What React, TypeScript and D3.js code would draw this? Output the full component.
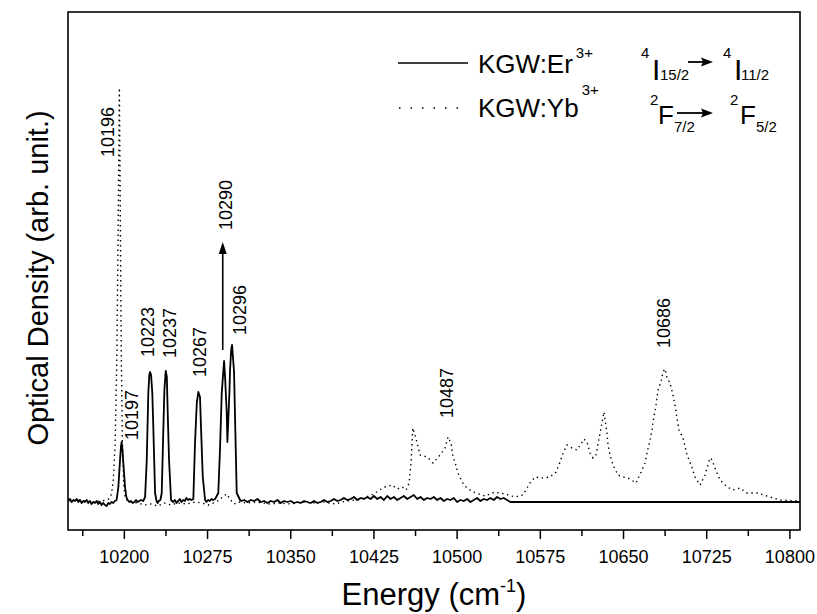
import React from 'react';
import * as d3 from 'd3';

// ---------- data ----------
// KGW:Er3+ (solid) : [energy cm-1, optical density (arb.)]
const erSeries: [number, number][] = [
  [10149.5, 30], [10151, 31], [10152.5, 28], [10154, 30], [10155.5, 29], [10157, 31], [10158.5, 28], [10160, 30],
  [10161.5, 27], [10163, 29], [10164.5, 28], [10166, 30], [10167.5, 27], [10169, 29], [10170.5, 26], [10172, 28],
  [10173.5, 27], [10175, 29], [10176.5, 26], [10178, 28], [10179.5, 25], [10181, 27], [10182.5, 25], [10184, 24],
  [10185.5, 27], [10187, 26], [10188.5, 28], [10190, 27], [10191.5, 29], [10193, 30],
  [10194.6, 43], [10196.1, 70], [10197, 84], [10197.6, 88], [10198.3, 80], [10199.1, 67], [10200.6, 43], [10201.8, 33], [10203, 30],
  [10204.5, 28], [10206, 29], [10207.5, 27], [10209, 28], [10210.5, 30], [10212, 28], [10213.5, 29], [10215, 30],
  [10217, 29], [10218.7, 33], [10220.2, 70], [10221.6, 137], [10222.5, 155], [10223.2, 158], [10224.1, 155], [10225.2, 137],
  [10226.1, 103], [10227.7, 37], [10229, 29], [10230, 27], [10231, 29],
  [10232.5, 30], [10233.7, 37], [10235.2, 103], [10236.1, 140], [10237.3, 159], [10238.3, 153], [10239.1, 117], [10240.3, 70], [10242.1, 30],
  [10244, 28], [10245.5, 30], [10247, 27], [10248.5, 29], [10250, 31], [10251.5, 28], [10253, 30], [10254.5, 29],
  [10256, 32], [10257.5, 30], [10259, 31], [10260.5, 30],
  [10262.2, 31], [10263.7, 87], [10265.3, 127], [10266.7, 138], [10268.2, 133], [10269.1, 103], [10270.7, 53], [10272.8, 30],
  [10274, 28], [10275.5, 30], [10277, 29], [10278.5, 31], [10280, 30], [10281.8, 31],
  [10284.7, 37], [10286.3, 83], [10287.8, 137], [10289.9, 169], [10290.8, 153], [10292.3, 117], [10292.9, 88],
  [10294.7, 137], [10295.3, 160], [10296.3, 180], [10297.1, 185], [10298.9, 158], [10299.8, 112], [10301.3, 37], [10304.3, 30],
  [10305.5, 29], [10308, 30], [10311, 28], [10314, 30], [10317, 29], [10320, 31], [10323, 28], [10326, 29], [10329, 27],
  [10332, 29], [10335, 28], [10338, 30], [10341, 27], [10344, 29], [10347, 28], [10350, 29], [10353, 27], [10356, 28],
  [10359, 27], [10362, 29], [10365, 28], [10368, 27], [10371, 29], [10374, 27], [10377, 28], [10380, 30], [10383, 28],
  [10386, 29], [10389, 31], [10392, 29], [10395, 30], [10398, 32], [10401, 30], [10404, 31], [10407, 33], [10410, 30],
  [10413, 32], [10416, 31], [10419, 33], [10422, 31], [10425, 34], [10428, 31], [10431, 33], [10434, 30], [10437, 34],
  [10440, 31], [10443, 33], [10446, 30], [10449, 32], [10452, 34], [10455, 31], [10458, 33], [10461, 35], [10464, 31],
  [10467, 33], [10470, 30], [10473, 32], [10476, 31], [10479, 33], [10482, 30], [10485, 32], [10488, 29], [10491, 31],
  [10494, 30], [10497, 32], [10500, 28], [10503, 30], [10506, 29], [10509, 31], [10512, 28], [10515, 30], [10518, 32],
  [10521, 29], [10524, 31], [10527, 30], [10530, 32], [10533, 30], [10536, 33], [10539, 31], [10542, 32], [10545, 30],
  [10548, 28], [10551, 28], [10600, 28], [10700, 28], [10809, 28],
];

// KGW:Yb3+ (dotted)
const ybSeries: [number, number][] = [
  [10149.5, 29], [10160, 30], [10170, 28], [10180, 29], [10186, 31], [10188.5, 36], [10190, 50], [10191.7, 87],
  [10193.2, 170], [10194.4, 300], [10195.5, 442], [10196.4, 310], [10197.2, 180], [10198.2, 90], [10199.5, 45],
  [10201, 31], [10205, 28], [10212, 27], [10218, 25], [10224, 26], [10230, 24], [10236, 27], [10242, 25], [10248, 27],
  [10256, 26], [10264, 28], [10270, 27], [10276, 25], [10282, 28], [10286, 30], [10289, 34], [10292.5, 36], [10295, 31],
  [10299, 26], [10303, 28], [10310, 27], [10320, 28], [10330, 26], [10340, 27], [10350, 26], [10360, 28], [10370, 27],
  [10380, 28], [10390, 26], [10400, 29], [10410, 30], [10418, 33], [10425, 36], [10430, 40], [10435, 43], [10441.4, 45],
  [10446, 41], [10450.4, 43], [10454, 40], [10456.7, 47], [10457.6, 58], [10458.5, 68], [10460, 102], [10462.1, 95],
  [10466.6, 75], [10472.9, 73], [10478.3, 67], [10484.6, 75], [10489.1, 82], [10491.8, 93], [10494.5, 87], [10496.3, 73],
  [10498.1, 68], [10500.8, 57], [10504.4, 48], [10508.9, 42], [10514.3, 38], [10525.1, 34], [10534.1, 38], [10543.1, 36],
  [10552.1, 33], [10559.3, 35], [10565.7, 47], [10570.2, 53], [10577.4, 52], [10583.8, 53], [10589.2, 58], [10592.8, 68],
  [10595.5, 77], [10599.1, 85], [10603.6, 82], [10608.1, 80], [10614.4, 91], [10617.1, 88], [10619.8, 77], [10622.5, 72],
  [10625.2, 75], [10627, 86], [10630.6, 107], [10632.4, 118], [10635.1, 97], [10636, 85], [10637.8, 75], [10640.5, 65],
  [10645, 55], [10649.6, 53], [10654.1, 52], [10661.3, 47], [10666.7, 60], [10669.4, 67], [10671.2, 77], [10673.9, 90],
  [10675.7, 100], [10676.6, 108], [10679.3, 125], [10681.1, 140], [10683.8, 148], [10685.6, 158], [10687.4, 161],
  [10689.2, 152], [10691.9, 147], [10694.6, 135], [10696.4, 125], [10698.2, 112], [10700, 100], [10703.6, 92],
  [10707.3, 75], [10710.9, 65], [10714.5, 53], [10719, 45], [10723.5, 55], [10728, 72], [10729.8, 70], [10732.5, 62],
  [10737, 50], [10743.3, 43], [10748.7, 40], [10755, 42], [10761.3, 37], [10770.3, 37], [10782, 33], [10791, 30], [10809, 29],
];

// Peak annotations: text, energy & value anchor
const peakLabels = ['10196', '10197', '10223', '10237', '10267', '10290', '10296', '10487', '10686'];
const peakLabelE = [10190.7, 10212.4, 10226.8, 10246.2, 10273.7, 10296.6, 10309.7, 10496.3, 10692];
const peakLabelV = [373, 90, 173, 172, 153, 300, 195, 112, 182];
// Arrow pointing up from the 10290 peak
const arrowE = 10288.7;
const arrowV = [180, 288];

// Axis
const xMajorTicks = [10200, 10275, 10350, 10425, 10500, 10575, 10650, 10725, 10800];
const xMinorTicks = [10162.5, 10237.5, 10312.5, 10387.5, 10462.5, 10537.5, 10612.5, 10687.5, 10762.5];
const xTickLabels = ['10200', '10275', '10350', '10425', '10500', '10575', '10650', '10725', '10800'];
const xDomain: [number, number] = [10149.2, 10809.1];
const yDomain: [number, number] = [0, 518];

const FONT = '"Liberation Sans", Arial, Helvetica, sans-serif';

export default function App() {
  const L = 68, R = 800, T = 12, B = 530;
  const x = d3.scaleLinear().domain(xDomain).range([L, R]);
  const y = d3.scaleLinear().domain(yDomain).range([B, T]);
  const line = d3.line<[number, number]>().x(d => x(d[0])).y(d => y(d[1]));

  const ax = x(arrowE);
  const ay0 = y(arrowV[0]);
  const ay1 = y(arrowV[1]);

  return (
    <svg width={817} height={614} style={{ position: 'absolute', left: 0, top: 0, background: '#fff' }} fontFamily={FONT}>
      <defs>
        <clipPath id="plotclip">
          <rect x={L} y={T} width={R - L} height={B - T} />
        </clipPath>
      </defs>
      <rect x={0} y={0} width={817} height={614} fill="#fff" />
      <g clipPath="url(#plotclip)">
        <path d={line(ybSeries) || ''} fill="none" stroke="#000" strokeWidth={1.4} strokeDasharray="1.4,3.6" />
        <path d={line(erSeries) || ''} fill="none" stroke="#000" strokeWidth={1.8} strokeLinejoin="round" />
      </g>
      {/* arrow */}
      <line x1={ax} x2={ax} y1={ay0} y2={ay1 + 10} stroke="#000" strokeWidth={1.6} />
      <path d={`M${ax},${ay1} L${ax - 4},${ay1 + 12} L${ax + 4},${ay1 + 12} Z`} fill="#000" />
      {/* peak labels */}
      {peakLabels.map((t, i) => (
        <text key={t} transform={`translate(${x(peakLabelE[i])},${y(peakLabelV[i])}) rotate(-90)`} fontSize={18} fill="#000">{t}</text>
      ))}
      {/* frame */}
      <rect x={L} y={T} width={R - L} height={B - T} fill="none" stroke="#000" strokeWidth={1.6} />
      {/* ticks */}
      {xMajorTicks.map(v => (
        <line key={'M' + v} x1={x(v)} x2={x(v)} y1={B} y2={B + 9} stroke="#000" strokeWidth={1.5} />
      ))}
      {xMinorTicks.map(v => (
        <line key={'m' + v} x1={x(v)} x2={x(v)} y1={B} y2={B + 6} stroke="#000" strokeWidth={1.5} />
      ))}
      {xMajorTicks.map((v, i) => (
        <text key={'t' + v} x={x(v)} y={563} fontSize={18} textAnchor="middle">{xTickLabels[i]}</text>
      ))}
      {/* axis titles */}
      <text x={(L + R) / 2} y={605} fontSize={31} textAnchor="middle">
        Energy (cm<tspan fontSize={18} dy={-13}>-1</tspan><tspan dy={13}>)</tspan>
      </text>
      <text transform={`translate(48,278) rotate(-90)`} fontSize={29} textAnchor="middle">
        Optical Density (arb. unit.)
      </text>
      {/* legend */}
      <line x1={398} x2={468} y1={63} y2={63} stroke="#000" strokeWidth={1.7} />
      <line x1={399} x2={468} y1={108} y2={108} stroke="#000" strokeWidth={1.5} strokeDasharray="1.5,10" />
      <text x={478} y={73} fontSize={26}>KGW:Er<tspan fontSize={15} dy={-15} dx={3}>3+</tspan></text>
      <text x={478} y={117} fontSize={26}>KGW:Yb<tspan fontSize={15} dy={-22} dx={3}>3+</tspan></text>
      {/* term symbols row 1 */}
      <text x={641} y={58} fontSize={15}>4</text>
      <text x={652} y={80} fontSize={30}>I</text>
      <text x={660} y={80} fontSize={15}>15/2</text>
      <line x1={688} x2={704} y1={62} y2={62} stroke="#000" strokeWidth={1.8} />
      <path d="M713,62 L701,57.5 L703,62 L701,66.5 Z" fill="#000" />
      <text x={723} y={58} fontSize={15}>4</text>
      <text x={734} y={80} fontSize={30}>I</text>
      <text x={741} y={80} fontSize={15}>11/2</text>
      {/* term symbols row 2 */}
      <text x={650} y={105} fontSize={15}>2</text>
      <text x={658} y={124} fontSize={26}>F</text>
      <text x={674} y={132} fontSize={15}>7/2</text>
      <line x1={677} x2={704} y1={113} y2={113} stroke="#000" strokeWidth={1.8} />
      <path d="M713,113 L701,108.5 L703,113 L701,117.5 Z" fill="#000" />
      <text x={730} y={105} fontSize={15}>2</text>
      <text x={740} y={124} fontSize={26}>F</text>
      <text x={756} y={132} fontSize={15}>5/2</text>
    </svg>
  );
}
